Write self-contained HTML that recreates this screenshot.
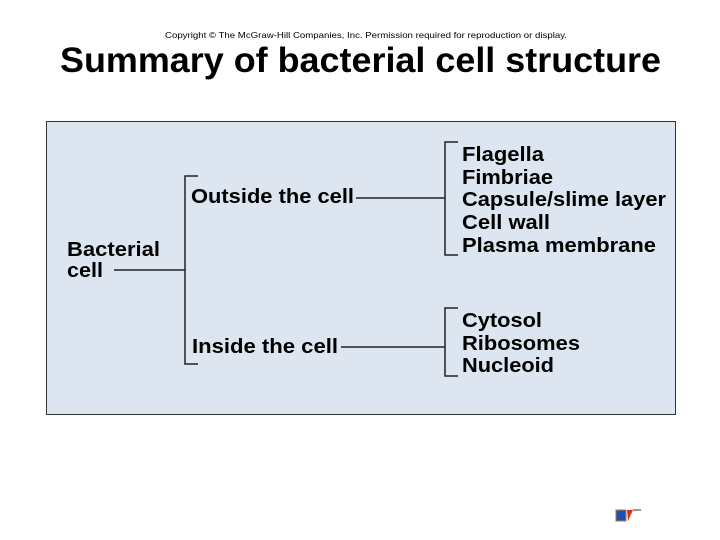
<!DOCTYPE html>
<html><head><meta charset="utf-8"><style>
html,body{margin:0;padding:0;background:#fff;}
svg{display:block;}
text{font-family:"Liberation Sans",Arial,sans-serif;font-weight:bold;fill:#000;}
</style></head><body>
<svg width="720" height="540" viewBox="0 0 720 540" xmlns="http://www.w3.org/2000/svg">
<text x="366" y="38" font-size="8.5" text-anchor="middle" textLength="402" lengthAdjust="spacingAndGlyphs" style="font-weight:normal">Copyright © The McGraw-Hill Companies, Inc. Permission required for reproduction or display.</text>
<text x="60" y="72" font-size="35" textLength="601" lengthAdjust="spacingAndGlyphs">Summary of bacterial cell structure</text>
<rect x="46.5" y="121.5" width="629" height="293" fill="#dce5f0" stroke="#333" stroke-width="1"/>
<g stroke="#222" stroke-width="1.5" fill="none">
<path d="M198 176 H185 V364 H198"/>
<path d="M114 270 H185"/>
<path d="M356 198 H445"/>
<path d="M341 347 H445"/>
<path d="M458 142 H445 V255 H458"/>
<path d="M458 308 H445 V376 H458"/>
</g>
<g font-size="20.5">
<text x="67" y="256" textLength="93" lengthAdjust="spacingAndGlyphs">Bacterial</text>
<text x="67" y="277" textLength="36" lengthAdjust="spacingAndGlyphs">cell</text>
<text x="191" y="203" textLength="163" lengthAdjust="spacingAndGlyphs">Outside the cell</text>
<text x="192" y="353" textLength="146" lengthAdjust="spacingAndGlyphs">Inside the cell</text>
<text x="462" y="161" textLength="82" lengthAdjust="spacingAndGlyphs">Flagella</text>
<text x="462" y="184" textLength="91" lengthAdjust="spacingAndGlyphs">Fimbriae</text>
<text x="462" y="206" textLength="204" lengthAdjust="spacingAndGlyphs">Capsule/slime layer</text>
<text x="462" y="229" textLength="88" lengthAdjust="spacingAndGlyphs">Cell wall</text>
<text x="462" y="252" textLength="194" lengthAdjust="spacingAndGlyphs">Plasma membrane</text>
<text x="462" y="327" textLength="80" lengthAdjust="spacingAndGlyphs">Cytosol</text>
<text x="462" y="350" textLength="118" lengthAdjust="spacingAndGlyphs">Ribosomes</text>
<text x="462" y="372" textLength="92" lengthAdjust="spacingAndGlyphs">Nucleoid</text>
</g>
<rect x="616" y="510" width="10" height="11" fill="#1f4fb5" stroke="#a08040" stroke-width="1"/>
<path d="M627 510 L633 510 L628 521 Z" fill="#e0301a"/>
<path d="M633 510 H641" stroke="#333" stroke-width="1"/>
</svg>
</body></html>
